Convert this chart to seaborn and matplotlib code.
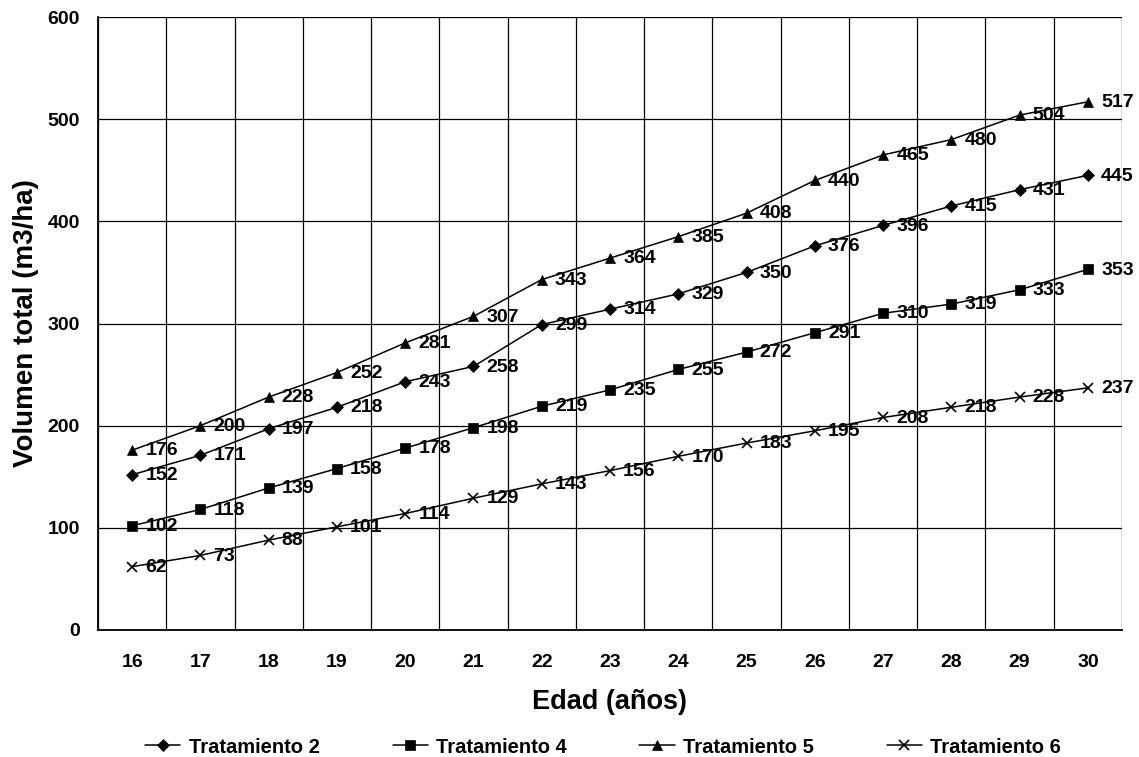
import matplotlib
matplotlib.use("Agg")
import matplotlib.pyplot as plt
import seaborn as sns
import pandas as pd
from matplotlib.ticker import FixedLocator, NullFormatter

edad = [16, 17, 18, 19, 20, 21, 22, 23, 24, 25, 26, 27, 28, 29, 30]
trat2 = [152, 171, 197, 218, 243, 258, 299, 314, 329, 350, 376, 396, 415, 431, 445]
trat4 = [102, 118, 139, 158, 178, 198, 219, 235, 255, 272, 291, 310, 319, 333, 353]
trat5 = [176, 200, 228, 252, 281, 307, 343, 364, 385, 408, 440, 465, 480, 504, 517]
trat6 = [62, 73, 88, 101, 114, 129, 143, 156, 170, 183, 195, 208, 218, 228, 237]

series = [
    ("Tratamiento 2", trat2, "D", 6),
    ("Tratamiento 4", trat4, "s", 6.5),
    ("Tratamiento 5", trat5, "^", 7.5),
    ("Tratamiento 6", trat6, "x", 7),
]

sns.set_theme(style="white")
plt.rcParams["font.family"] = ["Liberation Sans", "DejaVu Sans"]
plt.rcParams["font.weight"] = "bold"
for key in ["text.color", "axes.labelcolor", "xtick.color", "ytick.color"]:
    plt.rcParams[key] = "black"

fig = plt.figure(figsize=(11.39, 7.57), dpi=100)
ax = fig.add_axes([98 / 1139, 1 - 630 / 757, (1122 - 98) / 1139, (630 - 17) / 757])

for name, vals, mk, ms in series:
    df = pd.DataFrame({"edad": edad, "vol": vals})
    sns.lineplot(data=df, x="edad", y="vol", ax=ax, color="black", linewidth=1.1,
                 marker=mk, markersize=ms, markeredgecolor="black",
                 markerfacecolor="black", markeredgewidth=1.2 if mk == "x" else 0.5,
                 label=name, legend=False)
    for x, v in zip(edad, vals):
        ax.annotate(str(v), (x, v), xytext=(9.5, -0.5), textcoords="offset points",
                    ha="left", va="center", fontsize=14, fontweight="bold",
                    color="black")

ax.set_xlim(15.5, 30.5)
ax.set_ylim(0, 600)
ax.set_yticks(range(0, 601, 100))
ax.xaxis.set_major_locator(FixedLocator(edad))
ax.set_xticklabels([str(e) for e in edad])
ax.xaxis.set_minor_locator(FixedLocator([e - 0.5 for e in edad] + [30.5]))
ax.xaxis.set_minor_formatter(NullFormatter())
ax.tick_params(axis="x", which="major", length=0, pad=17, labelsize=14)
ax.tick_params(axis="x", which="minor", length=5, width=1, color="black", direction="out")
ax.tick_params(axis="y", which="major", length=5, width=1, color="black",
               direction="out", labelsize=14, pad=8)
for lab in ax.get_xticklabels() + ax.get_yticklabels():
    lab.set_fontweight("bold")

ax.grid(False)
ax.yaxis.grid(True, color="black", linewidth=0.9)
ax.xaxis.grid(True, which="minor", color="black", linewidth=0.9)
for side in ["top", "right"]:
    ax.spines[side].set_visible(False)
ax.spines["left"].set_color("black")
ax.spines["left"].set_linewidth(1.3)
ax.spines["bottom"].set_color("black")
ax.spines["bottom"].set_linewidth(1.3)

ax.set_xlabel("Edad (años)", fontsize=19.5, fontweight="bold")
ax.set_ylabel("Volumen total (m3/ha)", fontsize=20, fontweight="bold")
ax.xaxis.set_label_coords(0.5, -0.097)
ax.yaxis.set_label_coords(-0.058, 0.5)

handles, labels = ax.get_legend_handles_labels()
fig.legend(handles, labels, loc="center", bbox_to_anchor=(0.5294, 0.0132), ncol=4,
           frameon=False, handlelength=1.74, handletextpad=0.4,
           columnspacing=3.63, prop={"weight": "bold", "size": 14.5})

fig.savefig("out.png", dpi=100)
